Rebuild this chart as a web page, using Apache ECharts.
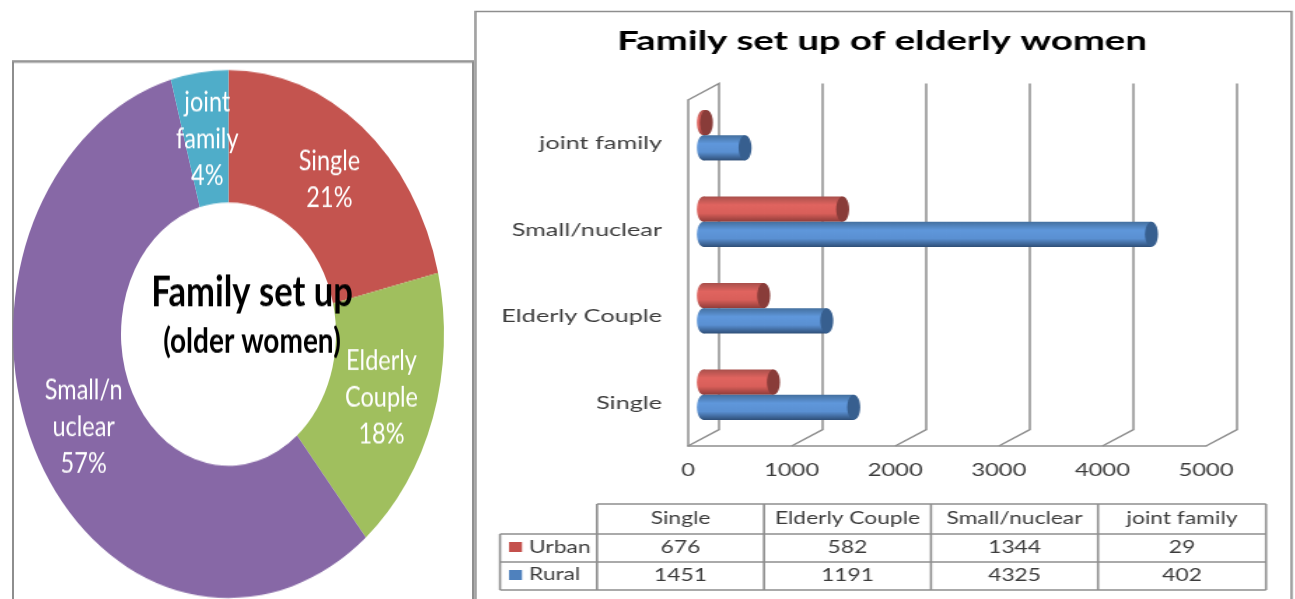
<!DOCTYPE html>
<html>
<head>
<meta charset="utf-8">
<script src="https://cdn.jsdelivr.net/npm/echarts@6/dist/echarts.min.js"></script>
<style>
html,body{margin:0;padding:0;background:#fff;width:1295px;height:599px;overflow:hidden}
#pie{position:absolute;left:0;top:60px;width:474px;height:440px;transform-origin:0 0;transform:scale(1,1.225)}
#bars{position:absolute;left:474px;top:0;width:586px;height:599px;transform-origin:0 0;transform:scale(1.4,1)}
</style>
</head>
<body>
<div id="bars"></div>
<div id="pie"></div>
<script>
// ---- data ----
const categories = ['Single', 'Elderly Couple', 'Small/nuclear', 'joint family'];
const urban = [676, 582, 1344, 29];
const rural = [1451, 1191, 4325, 402];
const pieLabels = ['Single', 'Elderly\nCouple', 'Small/n\nuclear', 'joint\nfamily'];
const pieValues = [2127, 1773, 5669, 431];
const pieColors = ['#c4544f', '#a0bf5e', '#8768a6', '#4fadc9'];
const pieLabelNudge = [[-1, 3], [-3, 0], [1, 0], [1, 4]];
const tickValues = [0, 1000, 2000, 3000, 4000, 5000];

// ---- left: doughnut ----
const pie = echarts.init(document.getElementById('pie'), null, {renderer: 'canvas'});
pie.setOption({
  animation: false,
  title: {
    text: 'Family set up', subtext: '(older women)',
    left: 247, top: 167, textAlign: 'center', itemGap: 9,
    textStyle: {fontFamily: 'Lato', fontWeight: 'bold', fontSize: 34.6, color: '#000'},
    subtextStyle: {fontFamily: 'Lato', fontWeight: 'bold', fontSize: 28, color: '#000'}
  },
  graphic: [{
    type: 'rect', silent: true, z: -1,
    shape: {x: 13, y: 1.2, width: 460, height: 460},
    style: {fill: 'none', stroke: '#8e8e8e', lineWidth: 2}
  }],
  series: [{
    type: 'pie', silent: true, startAngle: 90, clockwise: true,
    center: [228.5, 223.7], radius: [107.5, 215.5],
    avoidLabelOverlap: false,
    labelLine: {show: false},
    label: {
      show: true, position: 'inside', color: '#fff',
      fontFamily: 'Lato', fontSize: 23.5, lineHeight: 30,
      formatter: p => pieLabels[p.dataIndex] + '\n' + Math.round(p.percent) + '%'
    },
    data: categories.map((c, i) => ({
      name: c, value: pieValues[i],
      itemStyle: {color: pieColors[i]},
      label: {offset: pieLabelNudge[i]}
    }))
  }]
});

// ---- right: 3D-look cylinder bars ----
const S = 1.4, L = 474;
const sx = x => (x - L) / S;
const sw = w => w / S;
const GREY = '#8e8e8e', INK = '#3c3c3c';
const bars = echarts.init(document.getElementById('bars'), null, {renderer: 'canvas'});

function grad(stops) {
  return {type: 'linear', x: 0, y: 0, x2: 0, y2: 1,
    colorStops: stops.map((c, i) => ({offset: i / (stops.length - 1), color: c}))};
}
const depthX = sw(15.4), capRx = sw(6.5), capRy = 12.6;
function cylinder(isUrban) {
  const body = isUrban ? grad(['#a9504c', '#e0645f', '#d95f5a', '#8f3c39'])
                       : grad(['#44709f', '#5f97db', '#5a90d2', '#2f4f78']);
  const cap = isUrban ? '#893c39' : '#375f8f';
  return function (params, api) {
    const p0 = api.coord([0, api.value(1)]);
    const p1 = api.coord([api.value(0), api.value(1)]);
    const x0 = p0[0] + depthX, x1 = p1[0] + depthX;
    const cy = p0[1] - 8 + (isUrban ? -capRy : capRy);
    return {type: 'group', children: [
      {type: 'ellipse', shape: {cx: x0, cy: cy, rx: capRx, ry: capRy}, style: {fill: body}},
      {type: 'rect', shape: {x: x0, y: cy - capRy, width: x1 - x0, height: capRy * 2}, style: {fill: body}},
      {type: 'ellipse', shape: {cx: x1, cy: cy, rx: capRx, ry: capRy}, style: {fill: cap}}
    ]};
  };
}
function wall(params, api) {
  const v = api.value(0);
  const x = api.coord([v, 0])[0];
  const g = params.coordSys, top = g.y, bottom = g.y + g.height;
  const ddx = sw(31), ddy = 16.5;
  const pts = [[x, bottom], [x + ddx, bottom - ddy], [x + ddx, top - ddy]];
  if (v === 0) pts.push([x, top]);
  return {type: 'polyline', shape: {points: pts},
    style: {fill: 'none', stroke: GREY, lineWidth: 1.5}};
}

// data table, drawn from the same arrays
const colX = [597, 764, 931, 1098, 1266];
const rowY = [504, 534, 562, 590];
const tableEls = [];
const line = (x1, y1, x2, y2) => tableEls.push({type: 'line', silent: true,
  shape: {x1: sx(x1), y1, x2: sx(x2), y2}, style: {stroke: GREY, lineWidth: 1.6}});
colX.forEach(x => line(x, rowY[0], x, rowY[3]));
line(500, rowY[1], 500, rowY[3]);
line(colX[0], rowY[0], colX[4], rowY[0]);
line(500, rowY[1], colX[4], rowY[1]);
line(500, rowY[2], colX[4], rowY[2]);
line(500, rowY[3], colX[4], rowY[3]);
const cell = (x, y, t, align) => tableEls.push({type: 'text', silent: true, x: sx(x), y,
  style: {text: String(t), fill: INK, font: '16.3px Lato', align: align || 'center', verticalAlign: 'middle'}});
categories.forEach((c, i) => {
  const cx = (colX[i] + colX[i + 1]) / 2;
  cell(cx, 519, c);
  cell(cx, 548, urban[i]);
  cell(cx, 576, rural[i]);
});
cell(529, 548, 'Urban', 'left');
cell(529, 575, 'Rural', 'left');
tableEls.push({type: 'rect', silent: true, shape: {x: sx(509), y: 542, width: sw(13), height: 10}, style: {fill: '#c4504c'}});
tableEls.push({type: 'rect', silent: true, shape: {x: sx(509), y: 570, width: sw(13), height: 10}, style: {fill: '#4f81bd'}});
// panel frame
tableEls.push({type: 'rect', silent: true, shape: {x: sx(475.5), y: 11.5, width: sw(816), height: 640},
  style: {fill: 'none', stroke: GREY, lineWidth: 1.6}});

bars.setOption({
  animation: false,
  title: {
    text: 'Family set up of elderly women',
    left: sx(875), top: 23, textAlign: 'center',
    textStyle: {fontFamily: 'Lato', fontWeight: 'bold', fontSize: 27.4, color: '#000'}
  },
  grid: {left: sx(688), width: sw(518), top: 100, height: 346, containLabel: false},
  xAxis: {
    type: 'value', min: 0, max: 5000, interval: 1000,
    axisLine: {show: true, lineStyle: {color: GREY, width: 1.5}},
    axisTick: {show: false}, splitLine: {show: false},
    axisLabel: {margin: 16, color: INK, fontFamily: 'Lato', fontSize: 17, formatter: v => String(v)}
  },
  yAxis: {
    type: 'category', data: categories,
    axisLine: {show: true, onZero: false, lineStyle: {color: GREY, width: 1.5}},
    axisTick: {show: false},
    axisLabel: {margin: sw(26), color: INK, fontFamily: 'Lato', fontSize: 18, padding: [3, 0, 0, 0]}
  },
  graphic: tableEls,
  series: [
    {type: 'custom', name: 'axis walls', silent: true, clip: false, z: 1,
     renderItem: wall, data: tickValues.map(v => [v, 0])},
    {type: 'custom', name: 'Urban', silent: true, clip: false, z: 2,
     renderItem: cylinder(true), data: urban.map((v, i) => [v, i])},
    {type: 'custom', name: 'Rural', silent: true, clip: false, z: 3,
     renderItem: cylinder(false), data: rural.map((v, i) => [v, i])}
  ]
});
</script>
</body>
</html>
